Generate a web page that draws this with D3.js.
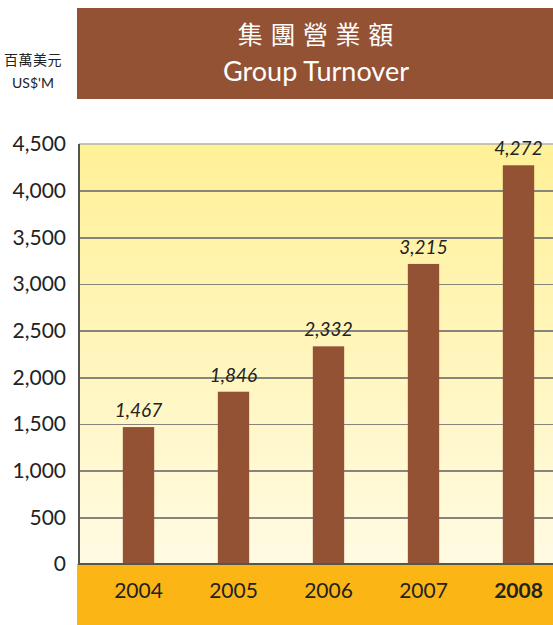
<html>
    <head>
        <style>
            body { margin: 0; background: #fff; }
            .grid line { stroke: #85857c; stroke-width: 1.5px; shape-rendering: crispEdges; }
            .grid path { display: none; }
            .y.axis path, .y.axis line { display: none; }
            .y.axis text { font-family: Lato, sans-serif; font-size: 21px; fill: #222; }
            .x.axis path, .x.axis line { display: none; }
            .x.axis text { font-family: Lato, sans-serif; font-size: 21px; fill: #222; }
            .value { font-family: Lato, sans-serif; font-style: italic; font-size: 19px; fill: #222; }
        </style>
    </head>
    <body>
        <div id="chart"></div>
        <script src="https://d3js.org/d3.v7.min.js"></script>
        <script>
            const years = ['2004', '2005', '2006', '2007', '2008'];
            const turnover = [1467, 1846, 2332, 3215, 4272];
            const yTicks = [0, 500, 1000, 1500, 2000, 2500, 3000, 3500, 4000, 4500];
            const titleZh = '集 團 營 業 額';
            const titleEn = 'Group Turnover';
            const unitZh = '百萬美元';
            const unitEn = "US$'M";

            const width = 553, height = 625;
            const plot = { left: 79, right: 553, top: 144, bottom: 564 };
            const brown = '#945235';

            const svg = d3.select('#chart')
                .append('svg')
                .attr('width', width)
                .attr('height', height);

            const xScale = d3.scaleBand()
                .domain(years)
                .range([91, 566])
                .paddingInner(0.67)
                .paddingOuter(0.335);

            const yScale = d3.scaleLinear()
                .domain([0, 4500])
                .range([plot.bottom, plot.top]);

            // background gradient of the plot
            const grad = svg.append('defs').append('linearGradient')
                .attr('id', 'bg').attr('x1', 0).attr('x2', 0).attr('y1', 0).attr('y2', 1);
            grad.append('stop').attr('offset', '0%').attr('stop-color', '#fff197');
            grad.append('stop').attr('offset', '55%').attr('stop-color', '#fff6c0');
            grad.append('stop').attr('offset', '100%').attr('stop-color', '#fffbe3');

            svg.append('rect')
                .attr('x', plot.left).attr('y', plot.top)
                .attr('width', plot.right - plot.left)
                .attr('height', plot.bottom - plot.top)
                .attr('fill', 'url(#bg)');

            // title banner
            svg.append('rect')
                .attr('x', 77).attr('y', 8)
                .attr('width', width - 77).attr('height', 91)
                .attr('fill', brown);

            svg.append('text')
                .attr('x', 316).attr('y', 44)
                .attr('text-anchor', 'middle')
                .style('font-family', '"Noto Sans CJK TC", sans-serif')
                .style('font-size', '25px')
                .style('letter-spacing', '1px')
                .style('fill', '#fff')
                .text(titleZh);

            svg.append('text')
                .attr('x', 316).attr('y', 81)
                .attr('text-anchor', 'middle')
                .style('font-family', 'Lato, sans-serif')
                .style('font-size', '27px')
                .style('fill', '#fff')
                .text(titleEn);

            // unit labels
            svg.append('text')
                .attr('x', 33).attr('y', 65)
                .attr('text-anchor', 'middle')
                .style('font-family', '"Noto Sans CJK TC", sans-serif')
                .style('font-size', '14px')
                .style('letter-spacing', '0.5px')
                .style('fill', '#222')
                .text(unitZh);

            svg.append('text')
                .attr('x', 33).attr('y', 88)
                .attr('text-anchor', 'middle')
                .style('font-family', 'Lato, sans-serif')
                .style('font-size', '14px')
                .style('fill', '#222')
                .text(unitEn);

            // gridlines
            svg.append('g')
                .attr('class', 'grid')
                .attr('transform', `translate(${plot.left},0)`)
                .call(d3.axisRight(yScale).tickValues(yTicks.slice(1, -1))
                    .tickSize(plot.right - plot.left).tickFormat(''));

            // top border
            svg.append('line')
                .attr('x1', plot.left).attr('x2', plot.right)
                .attr('y1', yScale(4500)).attr('y2', yScale(4500))
                .attr('stroke', '#b0b0a8').attr('stroke-width', 1.5);

            // orange band under the plot
            svg.append('rect')
                .attr('x', 77).attr('y', plot.bottom)
                .attr('width', width - 77).attr('height', height - plot.bottom)
                .attr('fill', '#fbb616');

            // bars
            svg.selectAll('.bar')
                .data(turnover)
                .enter()
                .append('rect')
                .attr('class', 'bar')
                .attr('x', (d, i) => xScale(years[i]))
                .attr('y', d => yScale(d))
                .attr('width', xScale.bandwidth())
                .attr('height', d => yScale(0) - yScale(d))
                .attr('fill', brown);

            // value labels
            svg.selectAll('.value')
                .data(turnover)
                .enter()
                .append('text')
                .attr('class', 'value')
                .attr('x', (d, i) => xScale(years[i]) + xScale.bandwidth() / 2)
                .attr('y', d => yScale(d) - 10)
                .attr('text-anchor', 'middle')
                .text(d => d3.format(',')(d));

            // axis lines
            svg.append('line')
                .attr('x1', plot.left).attr('x2', plot.left)
                .attr('y1', plot.top).attr('y2', plot.bottom + 1)
                .attr('stroke', '#55554f').attr('stroke-width', 2);
            svg.append('line')
                .attr('x1', plot.left - 1).attr('x2', plot.right)
                .attr('y1', plot.bottom).attr('y2', plot.bottom)
                .attr('stroke', '#55554f').attr('stroke-width', 2);

            // y axis
            svg.append('g')
                .attr('class', 'y axis')
                .attr('transform', `translate(${plot.left - 5},0)`)
                .call(d3.axisLeft(yScale).tickValues(yTicks).tickSize(0).tickPadding(8)
                    .tickFormat(d3.format(',')));

            // x axis
            svg.append('g')
                .attr('class', 'x axis')
                .attr('transform', `translate(0,${plot.bottom})`)
                .call(d3.axisBottom(xScale).tickSize(0).tickPadding(19))
                .selectAll('text')
                .style('font-weight', d => d === '2008' ? 'bold' : 'normal');
        </script>
    </body>
</html>
